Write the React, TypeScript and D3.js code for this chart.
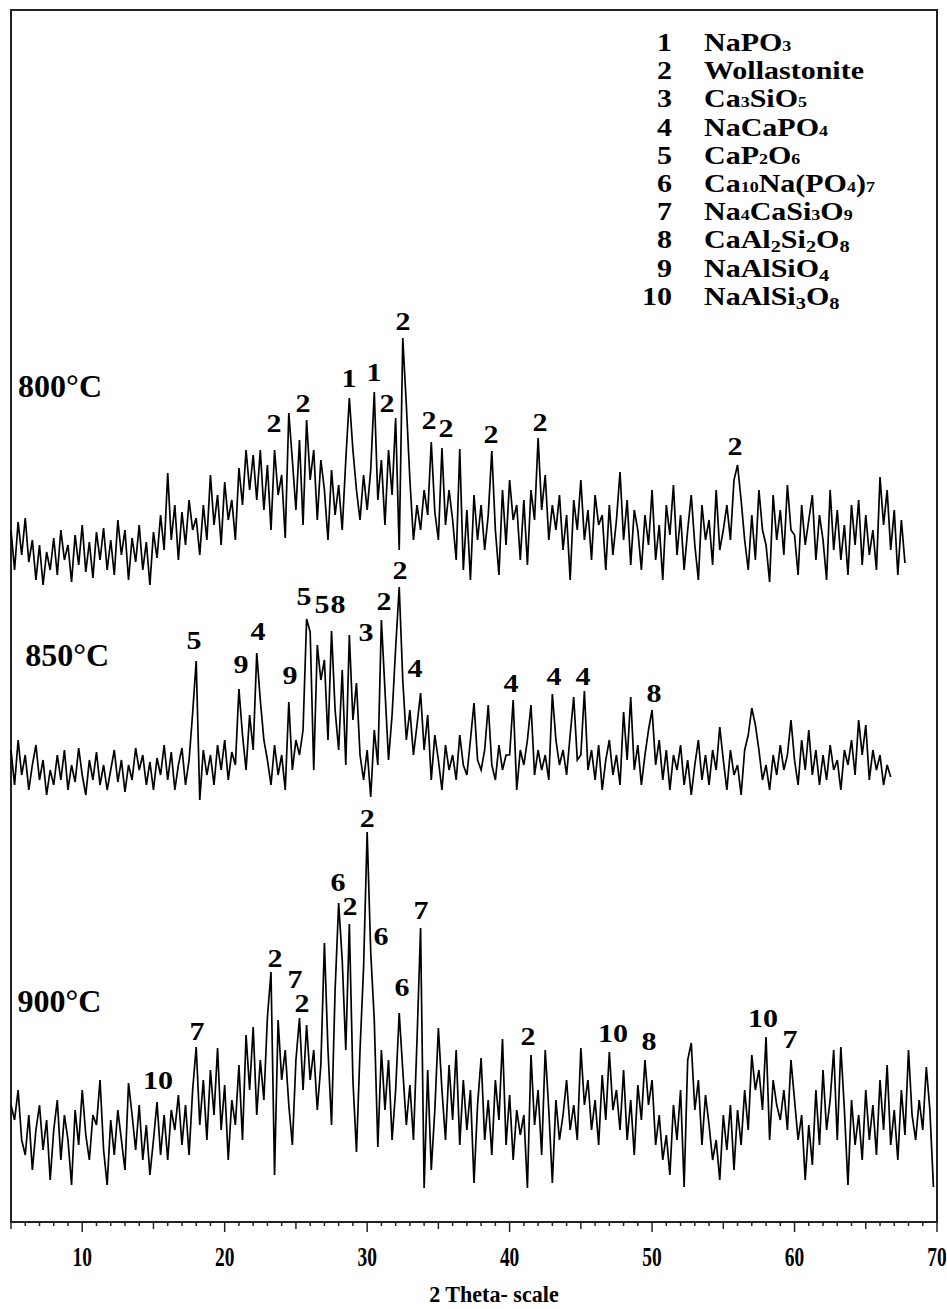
import React from 'react';
import * as d3 from 'd3';

const W = 947;
const H = 1309;
const FONT = '"Liberation Serif", "Times New Roman", serif';

// scan grid of the diffractograms (2θ, degrees)
const THETA_START = 5;
const THETA_STEP = 0.25;

// intensities (a.u.), one row per degree
const I800 = [
  70, 30, 78, 45, 82, 38, 60, 20, 55, 15, 48, 30, 62, 25, 70, 40,
  55, 18, 65, 35, 75, 28, 58, 22, 68, 40, 72, 30, 60, 25, 80, 45,
  70, 20, 62, 38, 75, 30, 58, 15, 68, 42, 85, 50, 127, 60, 95, 40,
  88, 55, 100, 70, 82, 45, 95, 60, 125, 75, 105, 55, 118, 80, 100, 60,
  132, 95, 150, 110, 145, 100, 150, 90, 135, 70, 150, 105, 125, 62, 187, 140,
  90, 160, 75, 180, 120, 150, 80, 140, 110, 60, 130, 85, 115, 70, 140, 202,
  150, 110, 80, 125, 90, 130, 208, 100, 140, 75, 150, 105, 182, 50, 262, 195,
  120, 60, 95, 70, 110, 85, 158, 88, 60, 152, 75, 110, 80, 40, 151, 30,
  90, 20, 105, 60, 95, 50, 85, 149, 70, 25, 110, 55, 120, 80, 95, 40,
  100, 35, 110, 80, 162, 90, 125, 60, 95, 70, 105, 50, 85, 20, 100, 70,
  120, 60, 90, 40, 105, 75, 85, 30, 95, 45, 80, 128, 60, 100, 35, 90,
  70, 30, 85, 55, 110, 40, 75, 20, 95, 65, 115, 45, 85, 30, 70, 105,
  55, 20, 95, 60, 80, 35, 110, 50, 70, 95, 60, 120, 135, 100, 60, 30,
  85, 40, 110, 70, 55, 18, 105, 60, 90, 45, 115, 70, 65, 25, 95, 55,
  80, 105, 40, 85, 60, 20, 110, 50, 90, 40, 75, 25, 95, 55, 100, 35,
  85, 45, 70, 30, 123, 75, 110, 50, 90, 25, 80, 37,
];

const I850 = [
  60, 25, 70, 35, 55, 20, 45, 65, 30, 50, 15, 40, 25, 55, 30, 60,
  20, 45, 28, 62, 35, 15, 50, 30, 58, 25, 45, 20, 40, 60, 28, 50,
  18, 45, 30, 62, 40, 55, 25, 48, 20, 52, 35, 65, 30, 58, 20, 45,
  62, 25, 50, 97, 149, 10, 60, 35, 55, 25, 65, 40, 70, 30, 58, 45,
  121, 75, 40, 95, 60, 157, 110, 70, 50, 25, 65, 35, 55, 20, 108, 40,
  70, 55, 80, 191, 178, 40, 165, 130, 150, 70, 179, 100, 60, 140, 45, 175,
  90, 127, 55, 30, 60, 13, 80, 45, 190, 120, 50, 95, 162, 223, 130, 70,
  100, 55, 85, 117, 60, 95, 30, 75, 50, 20, 65, 40, 55, 30, 75, 45,
  35, 70, 107, 50, 40, 60, 105, 45, 30, 65, 40, 55, 55, 110, 20, 60,
  45, 70, 105, 35, 60, 40, 55, 30, 116, 70, 45, 60, 35, 75, 113, 50,
  55, 119, 40, 60, 30, 65, 20, 50, 70, 35, 55, 25, 98, 50, 113, 40,
  65, 25, 55, 80, 100, 45, 70, 30, 60, 20, 55, 40, 65, 25, 50, 15,
  45, 70, 30, 55, 25, 60, 40, 83, 50, 20, 60, 35, 45, 15, 60, 75,
  102, 85, 60, 30, 45, 20, 55, 35, 65, 40, 55, 90, 50, 25, 70, 40,
  80, 35, 60, 25, 55, 30, 65, 40, 50, 20, 60, 45, 70, 35, 90, 55,
  85, 30, 60, 40, 55, 25, 45, 33,
];

const I900 = [
  95, 80, 110, 60, 45, 85, 30, 70, 95, 50, 80, 20, 70, 100, 40, 85,
  60, 15, 90, 55, 110, 65, 40, 85, 75, 120, 50, 15, 80, 45, 90, 60,
  30, 117, 85, 50, 95, 40, 75, 25, 60, 98, 45, 85, 40, 90, 70, 105,
  55, 95, 45, 110, 153, 75, 120, 60, 130, 85, 152, 70, 115, 40, 100, 75,
  135, 60, 165, 110, 173, 85, 140, 100, 183, 228, 25, 180, 120, 150, 95, 55,
  140, 182, 110, 175, 120, 150, 90, 135, 257, 150, 75, 210, 297, 240, 150, 276,
  120, 48, 150, 233, 368, 248, 180, 53, 150, 90, 140, 60, 110, 187, 130, 75,
  115, 60, 160, 272, 12, 130, 30, 90, 172, 110, 60, 135, 80, 150, 55, 120,
  70, 110, 17, 95, 142, 60, 100, 45, 120, 80, 161, 55, 105, 40, 90, 65,
  85, 12, 145, 75, 110, 45, 150, 90, 17, 100, 60, 85, 120, 70, 95, 60,
  152, 95, 120, 70, 100, 55, 125, 80, 148, 90, 110, 70, 130, 60, 100, 45,
  115, 80, 140, 95, 120, 55, 85, 40, 65, 25, 95, 60, 110, 13, 140, 157,
  90, 120, 55, 105, 75, 40, 60, 20, 85, 50, 95, 30, 90, 55, 110, 70,
  145, 110, 130, 90, 163, 60, 120, 95, 80, 110, 70, 140, 100, 60, 85, 20,
  75, 35, 110, 55, 130, 70, 100, 150, 60, 153, 90, 15, 100, 55, 85, 40,
  110, 60, 95, 45, 120, 70, 135, 55, 90, 40, 110, 65, 150, 85, 60, 100,
  70, 133, 90, 13,
];

// peak markers: [phase number, 2θ, intensity level of the label]
const PEAKS800: [string, number, number][] = [
  ['2', 23.46, 168], ['2', 25.5, 188], ['1', 28.73, 213], ['1', 30.48, 219],
  ['2', 31.39, 188], ['2', 32.52, 270], ['2', 34.34, 171], ['2', 35.53, 163],
  ['2', 38.69, 157], ['2', 42.13, 169], ['2', 55.82, 145],
];
const PEAKS850: [string, number, number][] = [
  ['5', 17.85, 161], ['9', 21.15, 137], ['4', 22.34, 170], ['9', 24.58, 126],
  ['5', 25.57, 205], ['5', 26.83, 197], ['8', 27.95, 197], ['3', 29.92, 169],
  ['2', 31.18, 200], ['2', 32.31, 231], ['4', 33.36, 133], ['4', 40.1, 118],
  ['4', 43.12, 125], ['4', 45.15, 125], ['8', 50.14, 108],
];
const PEAKS900: [string, number, number][] = [
  ['10', 15.32, 111], ['7', 18.06, 160], ['2', 23.53, 233], ['7', 24.94, 212],
  ['2', 25.43, 188], ['6', 27.95, 309], ['2', 28.8, 285], ['2', 30.0, 373],
  ['6', 30.97, 255], ['6', 32.45, 204], ['7', 33.78, 281], ['2', 41.29, 155],
  ['10', 47.26, 158], ['8', 49.78, 150], ['10', 57.79, 173], ['7', 59.68, 152],
];

const PATTERNS = [
  { name: '800°C', values: I800, offset: 622, peaks: PEAKS800 },
  { name: '850°C', values: I850, offset: 412, peaks: PEAKS850 },
  { name: '900°C', values: I900, offset: 22, peaks: PEAKS900 },
];

// where the temperature captions sit: [2θ, intensity above offset]
const CAPTIONS: [number, number][] = [[5.5, 203], [6.0, 144], [5.45, 188]];

const PHASE_NUMS = ['1', '2', '3', '4', '5', '6', '7', '8', '9', '10'];
const PHASE_FORMULAS = [
  'NaPO_3', 'Wollastonite', 'Ca_3SiO_5', 'NaCaPO_4', 'CaP_2O_6',
  'Ca_10Na(PO_4)_7', 'Na_4CaSi_3O_9', 'CaAl_2Si_2O_8', 'NaAlSiO_4', 'NaAlSi_3O_8',
];

const X_TICKS = [10, 20, 30, 40, 50, 60, 70];

const xScale = d3.scaleLinear().domain([5, 70]).range([11, 937]);
const yScale = d3.scaleLinear().domain([0, 1212]).range([1222, 10]);

function formulaParts(f: string) {
  return f.split(/(_\d+)/).filter(s => s.length > 0).map(s =>
    s.startsWith('_') ? { t: s.slice(1), sub: true } : { t: s, sub: false });
}

const Formula: React.FC<{ f: string; drop: number }> = ({ f, drop }) => {
  let prevSub = false;
  return (
    <>
      {formulaParts(f).map((p, i) => {
        const dy = p.sub === prevSub ? 0 : p.sub ? drop : -drop;
        prevSub = p.sub;
        return (
          <tspan key={i} dy={dy} fontSize={p.sub ? (drop > 0 ? 17 : 15) : 25}>{p.t}</tspan>
        );
      })}
    </>
  );
};

export default function App() {
  const axisY = yScale(0);
  const minorTicks = d3.range(5, 71);

  return (
    <div style={{ position: 'absolute', left: 0, top: 0 }}>
      <svg width={W} height={H} style={{ display: 'block', background: '#fff' }} fontFamily={FONT}>
        <rect x={xScale(5)} y={yScale(1212)} width={xScale(70) - xScale(5)} height={axisY - yScale(1212)}
          fill="none" stroke="#222" strokeWidth={2} />

        {PATTERNS.map(p => {
          const line = d3.line<number>()
            .x((_, i) => xScale(THETA_START + i * THETA_STEP))
            .y(d => yScale(d + p.offset));
          return (
            <g key={p.name}>
              <path d={line(p.values) || ''} fill="none" stroke="#000" strokeWidth={1.7} strokeLinejoin="miter" />
              {p.peaks.map(([lab, th, lv], i) => (
                <g key={i} transform={`translate(${xScale(th)},${yScale(lv + p.offset)}) scale(1.2,1)`}>
                  <text textAnchor="middle" fontSize={25} fontWeight="bold">{lab}</text>
                </g>
              ))}
            </g>
          );
        })}

        {PATTERNS.map((p, i) => (
          <text key={p.name} x={xScale(CAPTIONS[i][0])} y={yScale(CAPTIONS[i][1] + p.offset)}
            fontSize={32} fontWeight="bold">{p.name}</text>
        ))}

        {/* legend */}
        {PHASE_NUMS.map((n, i) => {
          const y = 51 + i * 28.2;
          return (
            <g key={n}>
              <g transform={`translate(672,${y}) scale(1.2,1)`}>
                <text textAnchor="end" fontSize={25} fontWeight="bold">{n}</text>
              </g>
              <g transform={`translate(704,${y}) scale(1.2,1)`}>
                <text fontSize={25} fontWeight="bold">
                  <Formula f={PHASE_FORMULAS[i]} drop={i >= 7 ? 4 : 0} />
                </text>
              </g>
            </g>
          );
        })}

        {/* x axis */}
        <line x1={xScale(5)} x2={xScale(70)} y1={axisY} y2={axisY} stroke="#222" strokeWidth={2} />
        {minorTicks.map(t => (
          <line key={t} x1={xScale(t)} x2={xScale(t)} y1={axisY}
            y2={axisY + (t % 10 === 0 ? 10 : t % 5 === 0 ? 7 : 4)} stroke="#222" strokeWidth={1.5} />
        ))}
        {X_TICKS.map(t => (
          <g key={t} transform={`translate(${xScale(t)},${axisY + 44}) scale(0.72,1)`}>
            <text textAnchor="middle" fontSize={27} fontWeight="bold">{t}</text>
          </g>
        ))}
        <g transform={`translate(${xScale(38.9)},${axisY + 80}) scale(0.92,1)`}>
          <text textAnchor="middle" fontSize={24} fontWeight="bold">2 Theta- scale</text>
        </g>
      </svg>
    </div>
  );
}
